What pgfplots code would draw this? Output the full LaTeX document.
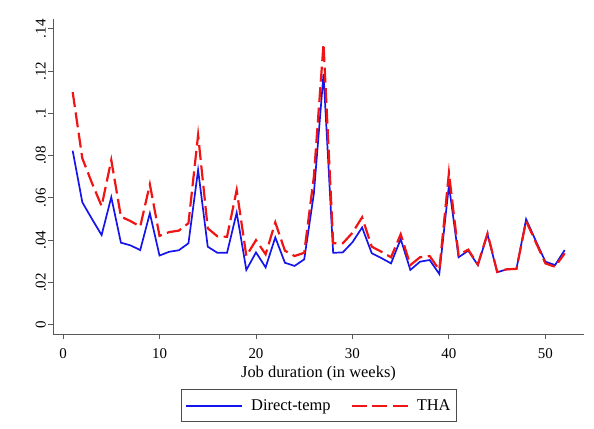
\documentclass[border=0pt]{standalone}
\usepackage{fontspec}
\setmainfont{Liberation Serif}
\usepackage{pgfplots}
\pgfplotsset{compat=1.18}
\definecolor{stblue}{RGB}{20,20,235}
\definecolor{stred}{RGB}{240,20,20}
\begin{document}
\begin{tikzpicture}
\path[use as bounding box] (-53bp,-95bp) rectangle (541bp,334bp);
\begin{axis}[
  at={(0,0)}, anchor=south west,
  scale only axis, width=531bp, height=315bp,
  xmin=-1.04, xmax=54, ymin=-0.0044, ymax=0.1446,
  axis x line*=bottom, axis y line*=left,
  axis line style={black!65, line width=0.9pt},
  every tick/.style={black!65, line width=0.9pt},
  tick align=outside, major tick length=5bp,
  xtick={0,10,...,50},
  ytick={0,0.02,0.04,0.06,0.08,0.1,0.12,0.14},
  yticklabels={0,.02,.04,.06,.08,.1,.12,.14},
  /pgf/number format/assume math mode=true,
  ticklabel style={font=\fontsize{15}{17}\selectfont},
  yticklabel style={rotate=90, anchor=south, inner sep=2bp},
  xticklabel style={inner sep=2bp, yshift=-7bp},
  xlabel={Job duration (in weeks)},
  xlabel style={font=\fontsize{16.5}{18}\selectfont, at={(0.5,-0.102)}, anchor=north, inner sep=0pt},
  legend columns=2,
  legend style={draw=black!70, line width=0.7pt, at={(0.501,-0.175)}, anchor=north,
    font=\fontsize{16.5}{18}\selectfont, inner xsep=4bp, inner ysep=8bp,
    /tikz/every even column/.append style={column sep=18bp}},
  legend image code/.code={\draw[#1] (0bp,0bp) -- (56bp,0bp); \path (62bp,0bp);},
]
\addplot[stblue, line width=1.7pt] coordinates {
(1,0.0823)(2,0.0579)(3,0.050)(4,0.0424)(5,0.0603)(6,0.0388)(7,0.0375)(8,0.0353)(9,0.0527)(10,0.0327)
(11,0.0345)(12,0.0352)(13,0.0385)(14,0.0732)(15,0.0369)(16,0.034)(17,0.034)(18,0.053)(19,0.0259)(20,0.0342)
(21,0.0271)(22,0.0413)(23,0.0293)(24,0.0278)(25,0.0309)(26,0.062)(27,0.1186)(28,0.034)(29,0.0342)(30,0.039)
(31,0.046)(32,0.0338)(33,0.0315)(34,0.029)(35,0.0405)(36,0.0259)(37,0.0298)(38,0.0306)(39,0.024)(40,0.066)
(41,0.0319)(42,0.035)(43,0.0282)(44,0.0428)(45,0.0248)(46,0.0262)(47,0.0264)(48,0.0499)(49,0.0397)(50,0.0298)
(51,0.0282)(52,0.0353)};
\addlegendentry{Direct-temp}
\addplot[stred, line width=2.2pt, dash pattern=on 15bp off 5.5bp] coordinates {
(1,0.110)(2,0.0787)(3,0.067)(4,0.0561)(5,0.0779)(6,0.0511)(7,0.049)(8,0.0464)(9,0.0664)(10,0.042)
(11,0.0438)(12,0.0445)(13,0.048)(14,0.0897)(15,0.0456)(16,0.0418)(17,0.0416)(18,0.0637)(19,0.0325)(20,0.040)
(21,0.0333)(22,0.0484)(23,0.035)(24,0.0325)(25,0.0340)(26,0.070)(27,0.1328)(28,0.0385)(29,0.0385)(30,0.0435)
(31,0.0508)(32,0.0369)(33,0.0345)(34,0.0319)(35,0.0428)(36,0.0282)(37,0.0319)(38,0.0325)(39,0.0259)(40,0.0719)
(41,0.033)(42,0.0355)(43,0.0285)(44,0.0432)(45,0.025)(46,0.0262)(47,0.0264)(48,0.049)(49,0.039)(50,0.029)
(51,0.0274)(52,0.0338)};
\addlegendentry{THA}
\end{axis}
\end{tikzpicture}
\end{document}
